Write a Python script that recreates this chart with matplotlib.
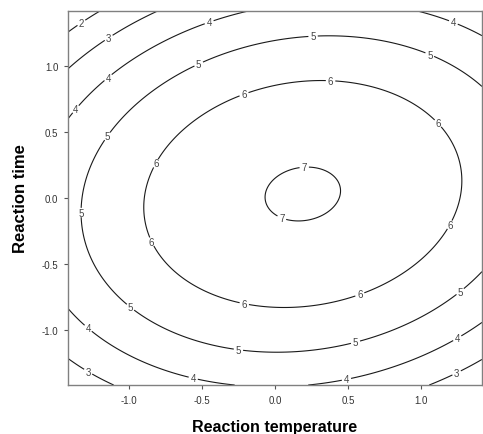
import numpy as np
import matplotlib
matplotlib.use("Agg")
import matplotlib.pyplot as plt

plt.rcParams['font.family'] = ['Liberation Sans', 'DejaVu Sans']

# coded second-order response model: y = b0 + b1*A + b2*B + b11*A^2 + b22*B^2 + b12*A*B
b0 = 7.027
b_lin = [0.338, 0.036]
b_quad = [-0.91, -1.46]
b_inter = 0.27
levels = [2, 3, 4, 5, 6, 7]
alpha = 1.414
ticks = [-1.0, -0.5, 0.0, 0.5, 1.0]

# where the contour labels go (temperature, time)
label_spots = [
    (-1.32, 1.32), (-1.13, 1.20), (-0.45, 1.33), (1.22, 1.33), (-1.14, 0.91),
    (-1.36, 0.67), (0.26, 1.23), (-0.52, 1.01), (1.06, 1.09), (-1.15, 0.47),
    (-1.32, -0.11), (0.38, 0.89), (-0.21, 0.78), (1.11, 0.56), (-0.81, 0.26),
    (0.20, 0.23), (0.05, -0.14), (-0.84, -0.33), (1.19, -0.20), (-0.21, -0.80),
    (0.58, -0.73), (-0.99, -0.83), (-0.25, -1.15), (0.55, -1.09), (1.26, -0.70),
    (-1.28, -0.99), (-0.56, -1.37), (0.49, -1.38), (1.24, -1.05), (-1.28, -1.32),
    (1.24, -1.32),
]

A = np.linspace(-alpha, alpha, 300)
B = np.linspace(-alpha, alpha, 300)
AA, BB = np.meshgrid(A, B)
Z = (b0 + b_lin[0] * AA + b_lin[1] * BB + b_quad[0] * AA ** 2
     + b_quad[1] * BB ** 2 + b_inter * AA * BB)

fig = plt.figure(figsize=(4.83, 4.35), dpi=100)
ax = fig.add_axes([0.1408, 0.1126, 0.857, 0.86])

cs = ax.contour(AA, BB, Z, levels=levels, colors='#1a1a1a', linewidths=0.8)
lbls = ax.clabel(cs, fmt='%d', fontsize=7, inline=True, inline_spacing=2,
                 manual=label_spots)
# labels stay upright, as in the original plotting package
for t in lbls:
    t.set_rotation(0)
    t.set_color('#444444')

ax.set_xlim(-alpha, alpha)
ax.set_ylim(-alpha, alpha)
ax.set_xticks(ticks)
ax.set_yticks(ticks)
ax.set_xticklabels([f'{t:.1f}' for t in ticks])
ax.set_yticklabels([f'{t:.1f}' for t in ticks])
ax.tick_params(direction='out', length=3, width=0.8, colors='#555555',
               labelsize=7, labelcolor='#333333', pad=4)
for s in ax.spines.values():
    s.set_color('#808080')
    s.set_linewidth(1.0)

ax.set_xlabel('Reaction temperature', fontsize=11.5, fontweight='bold', labelpad=10)
ax.set_ylabel('Reaction time', fontsize=12, fontweight='bold', labelpad=10)

fig.savefig('out.png', dpi=100)
